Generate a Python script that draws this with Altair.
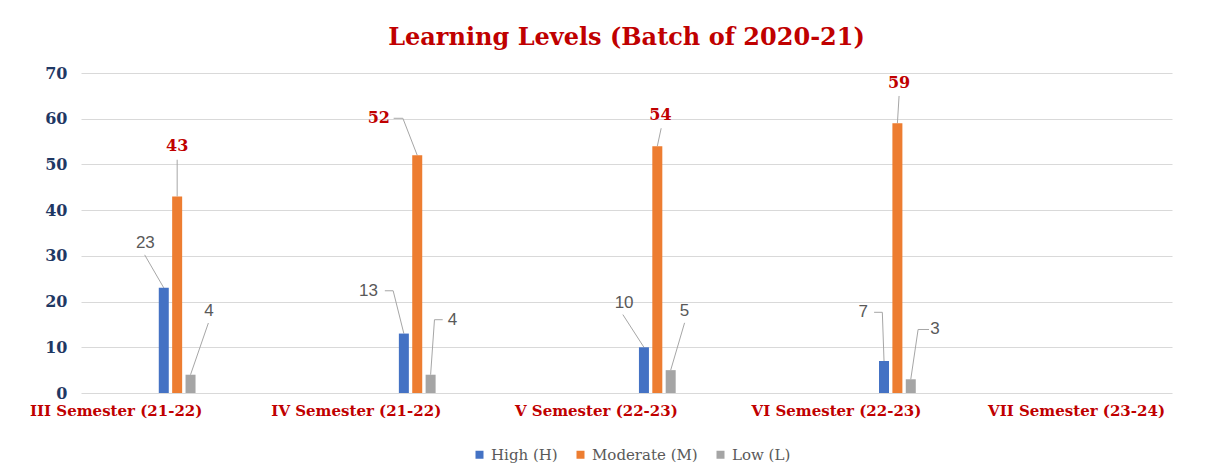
import altair as alt
import pandas as pd

# ---------------- data ----------------
categories = ["III Semester (21-22)", "IV Semester (21-22)", "V Semester (22-23)",
              "VI Semester (22-23)", "VII Semester (23-24)"]
series = ["High (H)", "Moderate (M)", "Low (L)"]
high = [23, 13, 10, 7]
moderate = [43, 52, 54, 59]
low = [4, 4, 5, 3]
y_ticks = [0, 10, 20, 30, 40, 50, 60, 70]

colors = ["#4472C4", "#ED7D31", "#A5A5A5"]

# ---------------- layout ----------------
W, H = 1091, 320
KX = 242.3                      # px per category step
X0 = -92 / KX
X1 = X0 + W / KX
KY = H / 70.0
series_off_px = [-13.5, 0.0, 13.5]
LABEL_SHIFT = 62 / KX           # category labels sit left of their bar groups

# data-label callouts, pixel offsets relative to the top-centre of each bar
lab_px = {
    0: [(-18.6, -44.7), (-35.8, -42.8), (-20, -44.4), (-21, -48.7)],
    1: [(0, -50), (-38.8, -37), (3.2, -31.2), (1.7, -40)],
    2: [(18.7, -63.7), (22.2, -55), (14, -58.9), (24.4, -49.8)],
}
start_px = {
    0: [(-19.3, -33), (-19.2, -42.8), (-21.3, -32.7), (-10, -48.7)],
    1: [(0, -36.7), (-23.8, -37), (3.9, -17.9), (1.7, -27.3)],
    2: [(18, -51.7), (12.2, -55), (14, -47.3), (18.4, -49.8)],
}
elbow_px = {
    0: [(-19.3, -33), (-10.8, -42.8), (-21.3, -32.7), (-1.7, -48.7)],
    1: [(0, -36.7), (-14.5, -37), (3.9, -17.9), (1.7, -27.3)],
    2: [(18, -51.7), (3.9, -55), (14, -47.3), (7.4, -49.8)],
}

values = [high, moderate, low]
bar_rows, lab_rows, line_rows = [], [], []
for s, name in enumerate(series):
    for i, v in enumerate(values[s]):
        bx = i + series_off_px[s] / KX
        bar_rows.append({"xp": bx, "yp": v, "series": name})
        ldx, ldy = lab_px[s][i]
        lab_rows.append({"xp": bx + ldx / KX, "yp": v - ldy / KY,
                         "series": name, "txt": str(v)})
        lid = f"{s}-{i}"
        for step, (dx, dy) in enumerate([start_px[s][i], elbow_px[s][i], (0, 0)]):
            line_rows.append({"xp": bx + dx / KX, "yp": v - dy / KY,
                              "lid": lid, "step": step})

bars = pd.DataFrame(bar_rows)
labs = pd.DataFrame(lab_rows)
lines = pd.DataFrame(line_rows)

label_expr = ("[" + ",".join(f"'{c}'" for c in categories) + "]"
              + f"[round(datum.value + {LABEL_SHIFT})]")

X = alt.X("xp:Q", title=None,
          scale=alt.Scale(domain=[X0, X1], nice=False, zero=False),
          axis=alt.Axis(values=[i - LABEL_SHIFT for i in range(len(categories))],
                        labelExpr=label_expr,
                        grid=False, ticks=False, domain=False,
                        labelPadding=10, labelFont="DejaVu Serif", labelFontWeight="bold",
                        labelFontSize=15, labelColor="#C00000", labelFlush=False,
                        labelOverlap=False, labelLimit=300))
Y = alt.Y("yp:Q", title=None, stack=None,
          scale=alt.Scale(domain=[0, 70], nice=False),
          axis=alt.Axis(values=y_ticks, grid=True, gridColor="#D9D9D9", ticks=False,
                        domain=False, labelPadding=14, labelFont="DejaVu Serif",
                        labelFontWeight="bold", labelFontSize=16, labelColor="#1F3864"))

bar_layer = alt.Chart(bars).mark_bar(size=10).encode(
    x=X, y=Y,
    color=alt.Color("series:N", scale=alt.Scale(domain=series, range=colors),
                    legend=alt.Legend(title=None, orient="none", direction="horizontal",
                                      legendX=391, legendY=374, symbolType="square",
                                      symbolSize=64, symbolStrokeWidth=0,
                                      labelFont="DejaVu Serif", labelFontSize=15,
                                      labelColor="#595959", columnPadding=15,
                                      labelOffset=4, padding=0, labelLimit=300)),
)

line_layer = alt.Chart(lines).mark_line(color="#A6A6A6", strokeWidth=1).encode(
    x=X, y=Y, detail="lid:N", order="step:Q")

txt_m = alt.Chart(labs).transform_filter(alt.datum.series == "Moderate (M)").mark_text(
    font="DejaVu Serif", fontWeight="bold", fontSize=16, color="#C00000",
    align="center", baseline="middle").encode(x=X, y=Y, text="txt:N")
txt_o = alt.Chart(labs).transform_filter(alt.datum.series != "Moderate (M)").mark_text(
    font="Liberation Sans", fontSize=17, color="#595959",
    align="center", baseline="middle").encode(x=X, y=Y, text="txt:N")

chart = alt.layer(line_layer, bar_layer, txt_m, txt_o).properties(
    width=W, height=H,
    background="white",
    title=alt.Title("Learning Levels (Batch of 2020-21)", font="DejaVu Serif",
                    fontSize=24, fontWeight="bold", color="#C00000", anchor="middle",
                    offset=15),
    autosize=alt.AutoSizeParams(type="none"),
    padding={"left": 73, "top": 65, "right": 52, "bottom": 70},
).configure_view(strokeWidth=0, stroke="transparent")

chart.save("out.html", embed_options={"renderer": "svg", "actions": False})
